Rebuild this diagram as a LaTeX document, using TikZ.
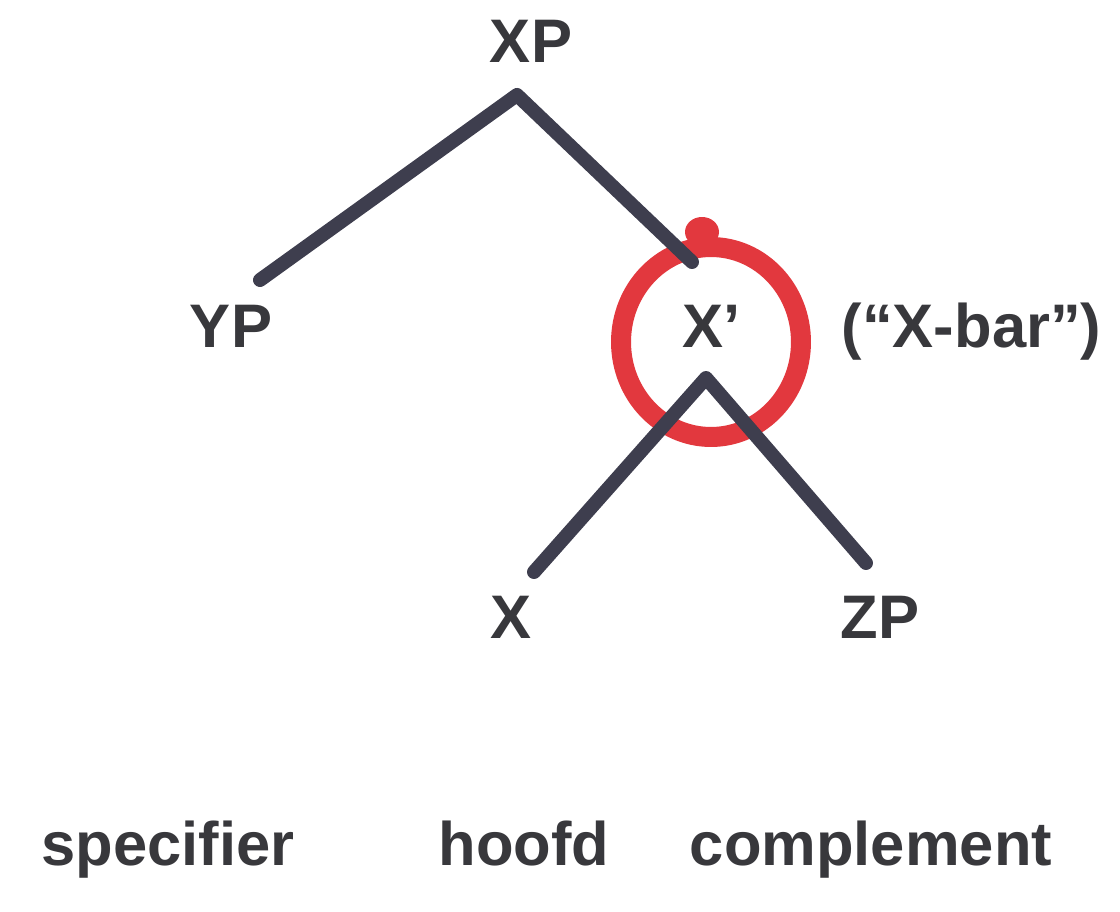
\documentclass[tikz,border=0pt]{standalone}
\usepackage{fontspec}
\setmainfont{Liberation Sans}
\usepackage{xcolor}
\usetikzlibrary{positioning}

\definecolor{ink}{HTML}{38383C}
\definecolor{marker}{HTML}{3E3E4E}
\definecolor{redpen}{HTML}{E2383E}

\tikzset{
  cat/.style={font=\bfseries\fontsize{35}{42}\selectfont, text=ink, inner sep=0pt, anchor=base},
  branch/.style={draw=marker, line width=0.28cm, line cap=round, line join=round},
}

\begin{document}
\begin{tikzpicture}[x=0.02cm, y=-0.02cm, node distance=2.2cm]
                \useasboundingbox (0,0) rectangle (1120,912);
                \node[cat] (xp) at (531,63) {XP};
                \node[cat] (yp) at (231,348) {YP};
                \node[cat] (xbar) at (712,348) {X’};
                \node[cat, base right=2.0cm of xbar] (xbarname) {(“X-bar”)};
                \node[cat] (x) at (511,638) {X};
                \node[cat] (zp) at (880,638) {ZP};
                \node[cat] (spec) at (168,865) {specifier};
                \node[cat] (head) at (524,865) {hoofd};
                \node[cat] (comp) at (871,865) {complement};

                \coordinate (xp apex) at (517,95);
                \coordinate (yp end) at (260,280);
                \coordinate (xbar end) at (692,262);
                \coordinate (xbar apex) at (706,378);
                \coordinate (x end) at (534,572);
                \coordinate (zp end) at (866,563);

                % red circle round X'
                \draw[redpen, line width=0.4cm] (711,342) ellipse [x radius=1.8cm, y radius=1.9cm];
                \fill[redpen] (702,232) ellipse [x radius=0.34cm, y radius=0.3cm];

                \draw[branch] (yp end) -- (xp apex) -- (xbar end);
                \draw[branch] (x end) -- (xbar apex) -- (zp end);
              \end{tikzpicture}
\end{document}
